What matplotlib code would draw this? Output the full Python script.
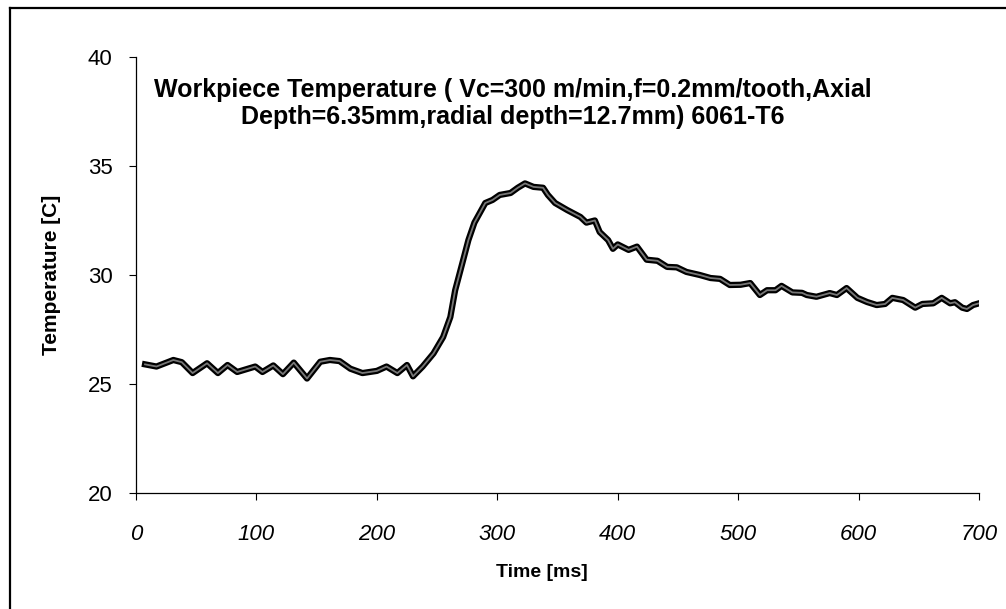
"""
Workpiece temperature trace (6061-T6), recreated from a scanned chart.
"""

import matplotlib.pyplot as plt
from matplotlib.lines import Line2D

# time [ms] and temperature [C]
time_ms = [
    7.5, 17, 31, 38, 47, 59, 68, 76, 84, 99, 105, 114, 122, 131, 142, 153,
    161, 169, 178, 188, 200, 208, 217, 225, 230, 238, 247, 255, 261, 265,
    271, 276, 281, 290, 296, 302, 311, 317, 323, 330, 338, 342, 348, 358,
    369, 374, 381, 385, 392, 396, 400, 409, 416, 424, 433, 441, 449, 457,
    468, 477, 485, 493, 502, 510, 518, 524, 531, 536, 545, 553, 557, 565,
    576, 582, 590, 599, 607, 615, 622, 628, 637, 647, 653, 662, 669, 676,
    680, 686, 690, 695, 700,
]
temp_c = [
    25.9, 25.8, 26.1, 26.0, 25.5, 25.95, 25.5, 25.87, 25.55, 25.8, 25.55,
    25.85, 25.45, 25.98, 25.25, 26.02, 26.1, 26.05, 25.7, 25.5, 25.6, 25.8,
    25.5, 25.87, 25.35, 25.8, 26.4, 27.15, 28.07, 29.3, 30.55, 31.6, 32.4,
    33.3, 33.44, 33.67, 33.76, 34.0, 34.2, 34.04, 34.0, 33.67, 33.3, 32.98,
    32.66, 32.4, 32.5, 31.97, 31.6, 31.2, 31.4, 31.15, 31.3, 30.7, 30.65,
    30.37, 30.35, 30.14, 30.0, 29.86, 29.82, 29.54, 29.55, 29.63, 29.08,
    29.3, 29.3, 29.5, 29.2, 29.18, 29.08, 29.0, 29.17, 29.08, 29.4, 28.95,
    28.76, 28.62, 28.67, 28.95, 28.85, 28.5, 28.67, 28.7, 28.95, 28.7,
    28.75, 28.5, 28.44, 28.62, 28.7,
]

x_ticks = [0, 100, 200, 300, 400, 500, 600, 700]
y_ticks = [20, 25, 30, 35, 40]

TITLE = ("Workpiece Temperature ( Vc=300 m/min,f=0.2mm/tooth,Axial\n"
         "Depth=6.35mm,radial depth=12.7mm) 6061-T6")

plt.rcParams["font.family"] = ["Liberation Sans", "DejaVu Sans"]

fig = plt.figure(figsize=(10.06, 6.09), dpi=100)
ax = fig.add_axes([0.1352, 0.1905, 0.838, 0.716])

# thick black trace with a grey core, like the scanned marker line
ax.plot(time_ms, temp_c, color="black", lw=4.5, solid_joinstyle="round")
ax.plot(time_ms, temp_c, color="#777777", lw=1.3, solid_joinstyle="round")

ax.set_xlim(0, 700)
ax.set_ylim(20, 40)
ax.set_xticks(x_ticks)
ax.set_yticks(y_ticks)
ax.set_xticklabels([str(v) for v in x_ticks], fontsize=16, style="italic")
ax.set_yticklabels([str(v) for v in y_ticks], fontsize=16)
ax.tick_params(direction="out", length=5, width=0.8)
ax.tick_params(axis="x", pad=17)
ax.tick_params(axis="y", pad=12)

for side in ("top", "right"):
    ax.spines[side].set_visible(False)
for side in ("left", "bottom"):
    ax.spines[side].set_linewidth(0.9)

ax.set_xlabel("Time [ms]", fontsize=14, fontweight="bold")
ax.xaxis.set_label_coords(0.481, -0.164)
ax.set_ylabel("Temperature [C]", fontsize=15, fontweight="bold")
ax.yaxis.set_label_coords(-0.089, 0.5)

ax.text(0.447, 0.893, TITLE, transform=ax.transAxes, ha="center", va="center",
        fontsize=18, fontweight="bold", linespacing=1.2)

# outer chart border (only top and left edges are inside the crop)
fig.add_artist(Line2D([10 / 1006, 10 / 1006], [0, 1 - 8 / 609],
                      transform=fig.transFigure, color="black", lw=1.6))
fig.add_artist(Line2D([10 / 1006, 1], [1 - 8 / 609, 1 - 8 / 609],
                      transform=fig.transFigure, color="black", lw=1.6))

fig.savefig("out.png", dpi=100, facecolor="white")
